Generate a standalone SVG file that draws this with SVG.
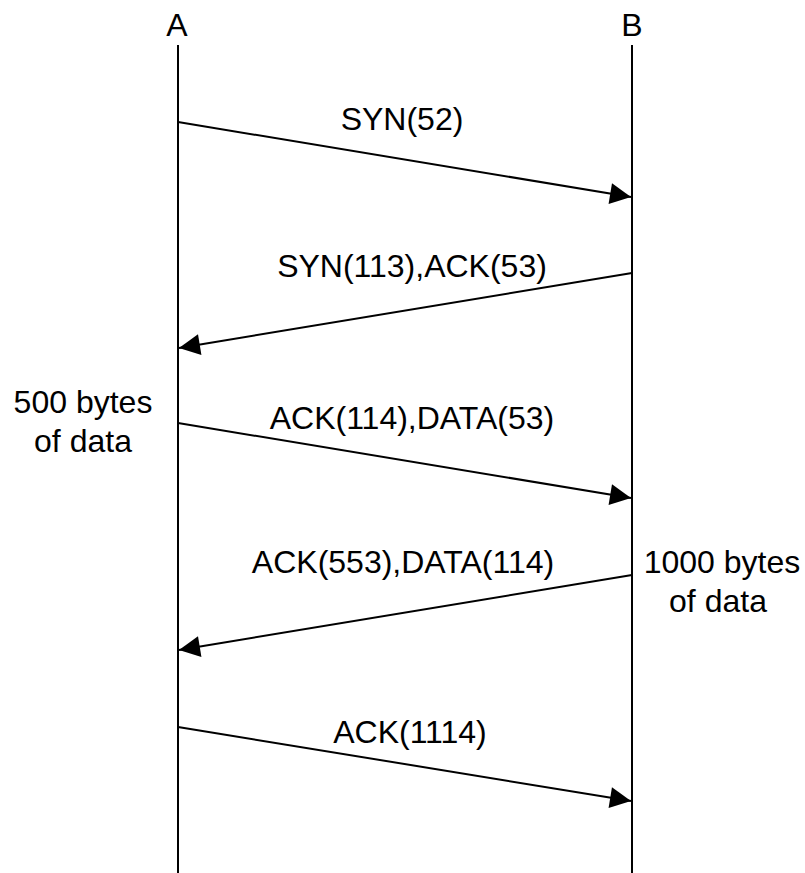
<svg xmlns="http://www.w3.org/2000/svg" width="805" height="873" viewBox="0 0 805 873">
<defs>
<style>
text{font-family:"Liberation Sans",Arial,sans-serif;font-size:32px;fill:#000;text-anchor:middle}
.life{stroke:#000;stroke-width:2;fill:none}
.msg{stroke:#000;stroke-width:2;fill:none;marker-end:url(#ah)}
</style>
<marker id="ah" markerUnits="userSpaceOnUse" markerWidth="24" markerHeight="24" viewBox="-22 -11 24 22" refX="0" refY="0" orient="auto">
<path d="M0,0 L-21,-10.5 L-21,10.5 Z" fill="#000"/>
</marker>
</defs>
<rect width="805" height="873" fill="#fff"/>
<g id="nodeA">
<text x="177" y="36">A</text>
<line class="life" x1="178" y1="45" x2="178" y2="873"/>
</g>
<g id="nodeB">
<text x="632" y="36">B</text>
<line class="life" x1="632" y1="45" x2="632" y2="873"/>
</g>
<g id="connectors">
<line class="msg" x1="178" y1="122" x2="631" y2="197"/>
<line class="msg" x1="632" y1="273" x2="179" y2="348"/>
<line class="msg" x1="178" y1="423" x2="631" y2="498"/>
<line class="msg" x1="632" y1="575" x2="179" y2="650"/>
<line class="msg" x1="178" y1="727" x2="631" y2="801"/>
</g>
<g id="labels">
<text x="402" y="130">SYN(52)</text>
<text x="412" y="277">SYN(113),ACK(53)</text>
<text x="412" y="429">ACK(114),DATA(53)</text>
<text x="403" y="573">ACK(553),DATA(114)</text>
<text x="410" y="743">ACK(1114)</text>
</g>
<g id="noteA">
<text x="83" y="413">500 bytes</text>
<text x="83" y="452">of data</text>
</g>
<g id="noteB">
<text x="722" y="573">1000 bytes</text>
<text x="718" y="612">of data</text>
</g>
</svg>
